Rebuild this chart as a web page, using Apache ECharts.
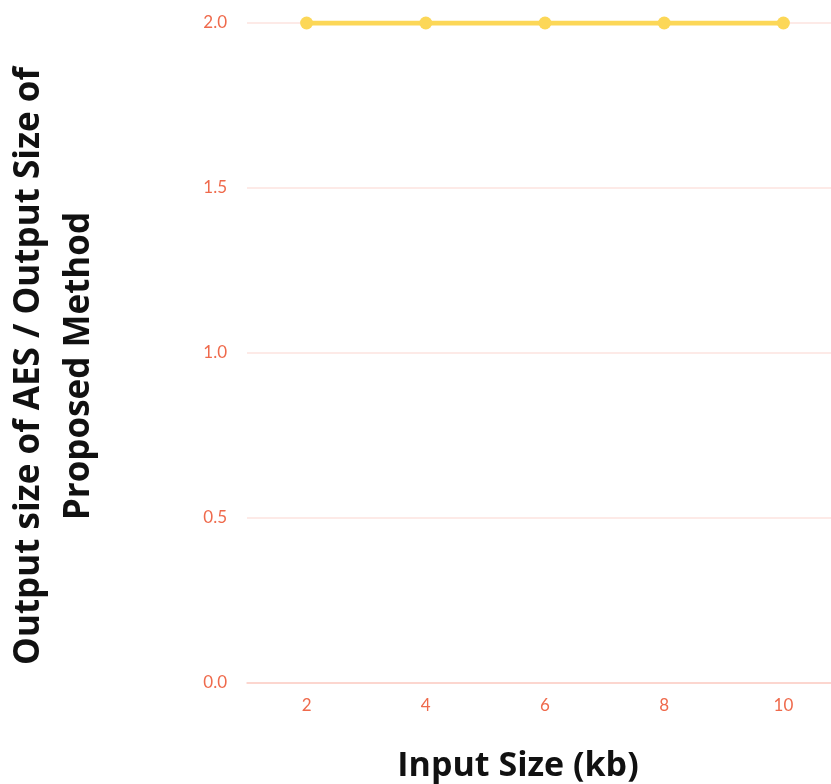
<!DOCTYPE html>
<html>
<head>
<meta charset="utf-8">
<script src="https://cdn.jsdelivr.net/npm/echarts@6/dist/echarts.min.js"></script>
<style>html,body{margin:0;padding:0;background:#fff}#c{width:831px;height:784px}</style>
</head>
<body>
<div id="c"></div>
<script>
var categories = ['2', '4', '6', '8', '10'];
var ratioValues = [2.0, 2.0, 2.0, 2.0, 2.0];
var yTicks = [0, 0.5, 1.0, 1.5, 2.0];

var chart = echarts.init(document.getElementById('c'));
chart.setOption({
  animation: false,
  grid: {left: 247, right: -12, top: 23, bottom: 101, containLabel: false, outerBoundsMode: 'none'},
  xAxis: {
    type: 'category',
    data: categories,
    boundaryGap: true,
    name: 'Input Size (kb)',
    nameLocation: 'middle',
    nameGap: 66,
    nameTextStyle: {fontFamily: 'Open Sans', fontWeight: 'bold', fontSize: 34, color: '#111', padding: [0, 54, 0, 0]},
    axisLine: {show: true, lineStyle: {color: '#fbcfc8', width: 1.5}},
    axisTick: {show: false},
    axisLabel: {color: '#ef6a4c', fontFamily: 'Lato', fontSize: 17, margin: 14}
  },
  yAxis: {
    type: 'value',
    min: yTicks[0],
    max: yTicks[yTicks.length - 1],
    interval: 0.5,
    name: 'Output size of AES / Output Size of\nProposed Method',
    nameLocation: 'middle',
    nameGap: 143,
    nameTextStyle: {fontFamily: 'Open Sans', fontWeight: 'bold', fontSize: 35, color: '#111', lineHeight: 50, align: 'center', padding: [0, 26, 0, 0]},
    axisLine: {show: false},
    axisTick: {show: false},
    splitLine: {lineStyle: {color: '#fde3df', width: 1.5}},
    axisLabel: {color: '#ef6a4c', fontFamily: 'Lato', fontSize: 17, margin: 20,
      formatter: function (v) { return v.toFixed(1); }}
  },
  series: [{
    type: 'line',
    data: ratioValues,
    symbol: 'circle',
    symbolSize: 13,
    lineStyle: {color: '#fcd757', width: 5},
    itemStyle: {color: '#fcd757'}
  }]
});
</script>
</body>
</html>
